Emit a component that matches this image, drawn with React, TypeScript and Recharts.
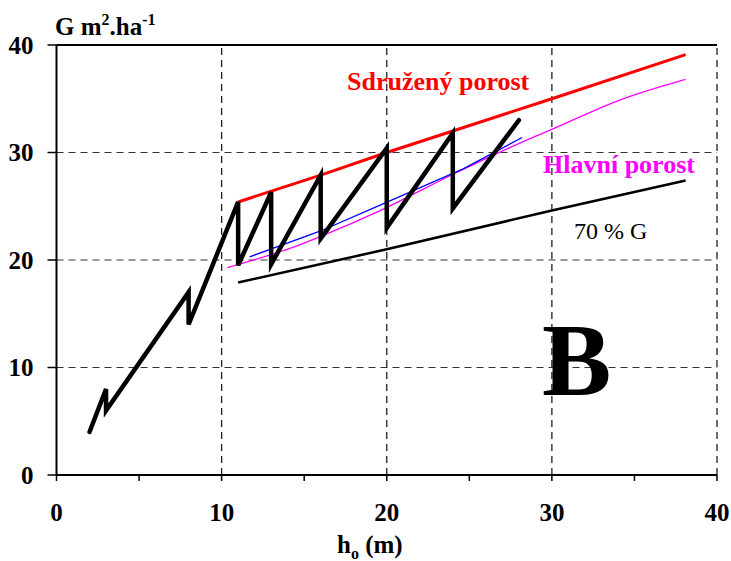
import { LineChart, Line, XAxis, YAxis, CartesianGrid, ReferenceLine } from "recharts"

// stand growth zigzag (thinning events = vertical drops)
const growthH = [2, 3, 3, 8, 8, 11, 11, 13, 13, 16, 16, 20, 20, 24, 24, 28]
const growthG = [4, 8, 6, 17, 14, 25.4, 19.5, 26.3, 19.6, 27.9, 22, 30.4, 23, 31.8, 24.8, 33]

// Sdružený porost
const totalH = [11, 16, 20, 24, 30, 38.1]
const totalG = [25.4, 27.9, 30.0, 32.0, 35.0, 39.1]

// Hlavní porost
const mainH = [10.35, 12.9, 14.35, 16, 19.6, 24.05, 28.1, 30, 34.15, 38.1]
const mainG = [19.3, 20.45, 21.2, 22.2, 24.6, 28.0, 30.9, 32.15, 34.9, 36.8]

// blue model line
const blueH = [11.7, 16, 19.6, 24, 24.6, 28.2]
const blueG = [20.3, 22.7, 25.1, 28.05, 28.45, 31.4]

// 70 % G
const lowH = [11, 20, 30, 38.1]
const lowG = [17.9, 21.0, 24.6, 27.4]

const xTicks = [0, 5, 10, 15, 20, 25, 30, 35, 40]
const yTicks = [0, 10, 20, 30, 40]
const xGrid = [10, 20, 30, 40]

const pts = (xs: number[], ys: number[]) => xs.map((x, i) => ({ x, y: ys[i] }))

const serif = '"Liberation Serif", "Times New Roman", Times, serif'
const tickStyle = { fill: "#000", fontSize: 25, fontWeight: "bold", fontFamily: serif }
const txt = { fontFamily: serif }

export default function App() {
  return (
    <div style={{ position: "absolute", left: 0, top: 0, width: 731, height: 561, background: "#fff", fontFamily: serif }}>
      <LineChart width={731} height={561} margin={{ top: 45, right: 14, left: 0, bottom: 0 }} style={{ fontFamily: serif }}>
        <CartesianGrid stroke="#333" strokeDasharray="7 5" strokeWidth={1.2} vertical={false} />
        <XAxis
          type="number"
          dataKey="x"
          domain={[0, 40]}
          ticks={xTicks}
          tickFormatter={(v: number) => (v % 10 === 0 ? String(v) : "")}
          height={86}
          tick={tickStyle}
          tickSize={6}
          tickMargin={22}
          tickLine={{ stroke: "#000", strokeWidth: 1.5 }}
          axisLine={{ stroke: "#000", strokeWidth: 2 }}
          allowDataOverflow
        />
        <YAxis
          type="number"
          domain={[0, 40]}
          ticks={yTicks}
          width={56.5}
          tick={tickStyle}
          tickSize={9}
          tickMargin={14}
          tickLine={{ stroke: "#000", strokeWidth: 1.5 }}
          axisLine={{ stroke: "#000", strokeWidth: 2 }}
          allowDataOverflow
        />
        {xGrid.map((g) => (
          <ReferenceLine key={g} x={g} stroke="#222" strokeDasharray="7 5" strokeWidth={1.3} />
        ))}
        <ReferenceLine y={40} stroke="#000" strokeWidth={2} />

        <Line data={pts(mainH, mainG)} dataKey="y" type="monotone" stroke="#ff00ff" strokeWidth={1.3} dot={false} isAnimationActive={false} />
        <Line data={pts(blueH, blueG)} dataKey="y" stroke="#0000ff" strokeWidth={1.3} dot={false} isAnimationActive={false} />
        <Line data={pts(lowH, lowG)} dataKey="y" stroke="#000" strokeWidth={2.5} dot={false} isAnimationActive={false} />
        <Line data={pts(totalH, totalG)} dataKey="y" stroke="#ff0000" strokeWidth={3} dot={false} isAnimationActive={false} />
        <Line
          data={pts(growthH, growthG)}
          dataKey="y"
          stroke="#000"
          strokeWidth={4.5}
          strokeLinecap="round"
          dot={false}
          isAnimationActive={false}
        />
      </LineChart>

      <svg width={731} height={561} style={{ position: "absolute", left: 0, top: 0, pointerEvents: "none" }}>
        <text x={55} y={35} style={txt} fontWeight="bold" fontSize={25} fill="#000">
          G m<tspan dy={-10} fontSize={16}>2</tspan>
          <tspan dy={10}>.ha</tspan>
          <tspan dy={-10} fontSize={16}>-1</tspan>
        </text>
        <text x={337} y={553} style={txt} fontWeight="bold" fontSize={25} fill="#000">
          h<tspan dy={6} fontSize={16}>o</tspan>
          <tspan dy={-6}> (m)</tspan>
        </text>
        <text x={347} y={90} style={txt} fontWeight="bold" fontSize={26} fill="#ff0000">
          Sdružený porost
        </text>
        <text x={543} y={173} style={txt} fontWeight="bold" fontSize={26} fill="#ff00ff">
          Hlavní porost
        </text>
        <text x={574} y={239} style={txt} fontSize={24} fill="#000">
          70 % G
        </text>
        <text x={542} y={395} style={txt} fontWeight="bold" fontSize={104} fill="#000">
          B
        </text>
      </svg>
    </div>
  )
}
